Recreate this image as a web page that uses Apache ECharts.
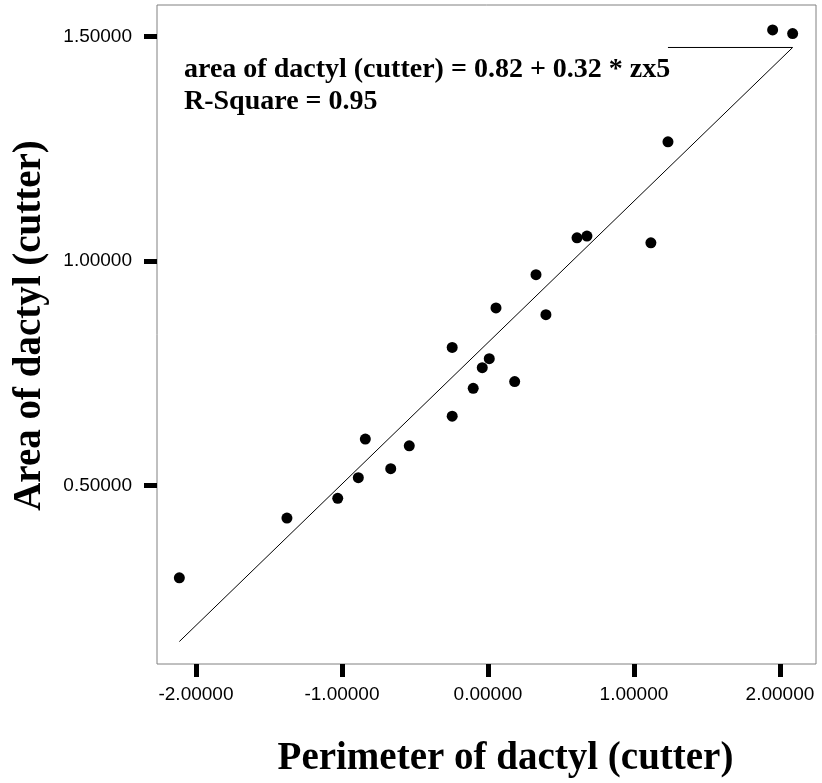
<!DOCTYPE html>
<html>
<head>
<meta charset="utf-8">
<script src="https://cdn.jsdelivr.net/npm/echarts@6/dist/echarts.min.js"></script>
<style>html,body{margin:0;padding:0;background:#fff}#c{width:822px;height:783px}</style>
</head>
<body>
<div id="c"></div>
<script>
// Perimeter of dactyl (cutter) (z-score)
const perimeter = [-2.114, -1.377, -1.029, -0.888, -0.840, -0.666, -0.539, -0.245, -0.245, -0.101, -0.039, 0.009, 0.055, 0.183, 0.397, 0.329, 0.610, 0.678, 1.116, 1.233, 1.950, 2.087];
// Area of dactyl (cutter)
const area = [0.295, 0.428, 0.472, 0.518, 0.604, 0.538, 0.589, 0.808, 0.655, 0.717, 0.763, 0.783, 0.896, 0.732, 0.881, 0.970, 1.052, 1.056, 1.041, 1.266, 1.515, 1.507];
// fit line endpoints and label leader line
const fitLine = [[-2.114, 0.153], [2.087, 1.476]];
const leaderLine = [[1.233, 1.476], [2.087, 1.476]];
const xTicks = [-2, -1, 0, 1, 2];
const yTicks = [0.5, 1.0, 1.5];
const equationText = ['area of dactyl (cutter) = 0.82 + 0.32 * zx5', 'R-Square = 0.95'];

const chart = echarts.init(document.getElementById('c'));
const serif = '"Liberation Serif", "Times New Roman", serif';
const sans = '"Liberation Sans", Arial, sans-serif';
chart.setOption({
  animation: false,
  backgroundColor: '#fff',
  grid: { left: 157, right: 6, top: 5, bottom: 114, show: true, borderColor: '#808080', borderWidth: 1, backgroundColor: 'transparent' },
  xAxis: {
    type: 'value', min: -2.267, max: 2.247,
    name: 'Perimeter of dactyl (cutter)', nameLocation: 'middle', nameGap: 75,
    nameTextStyle: { fontFamily: serif, fontWeight: 'bold', fontSize: 39, color: '#000', padding: [0, 0, 0, 38] },
    axisLine: { show: false, onZero: false },
    splitLine: { show: false },
    axisTick: { show: true, customValues: xTicks, length: 13, lineStyle: { color: '#000', width: 5 } },
    axisLabel: { customValues: xTicks, margin: 21, fontFamily: sans, fontSize: 19, color: '#000', formatter: v => v.toFixed(5) }
  },
  yAxis: {
    type: 'value', min: 0.103, max: 1.5706,
    name: 'Area of dactyl (cutter)', nameLocation: 'middle', nameGap: 108,
    nameTextStyle: { fontFamily: serif, fontWeight: 'bold', fontSize: 39, color: '#000', padding: [0, 0, 0, 18] },
    axisLine: { show: false, onZero: false },
    splitLine: { show: false },
    axisTick: { show: true, customValues: yTicks, length: 13, lineStyle: { color: '#000', width: 5 } },
    axisLabel: { customValues: yTicks, margin: 25, fontFamily: sans, fontSize: 19, color: '#000', formatter: v => v.toFixed(5) }
  },
  graphic: [{
    type: 'text', left: 184, top: 54,
    style: { text: equationText.join('\n'), fontFamily: serif, fontWeight: 'bold', fontSize: 28, lineHeight: 32, fill: '#000' }
  }],
  series: [
    { type: 'line', data: fitLine, symbol: 'none', lineStyle: { color: '#000', width: 1 }, silent: true },
    { type: 'line', data: leaderLine, symbol: 'none', lineStyle: { color: '#000', width: 1 }, silent: true },
    { type: 'scatter', data: perimeter.map((x, i) => [x, area[i]]), symbolSize: 11, itemStyle: { color: '#000', opacity: 1 } }
  ]
});
</script>
</body>
</html>
